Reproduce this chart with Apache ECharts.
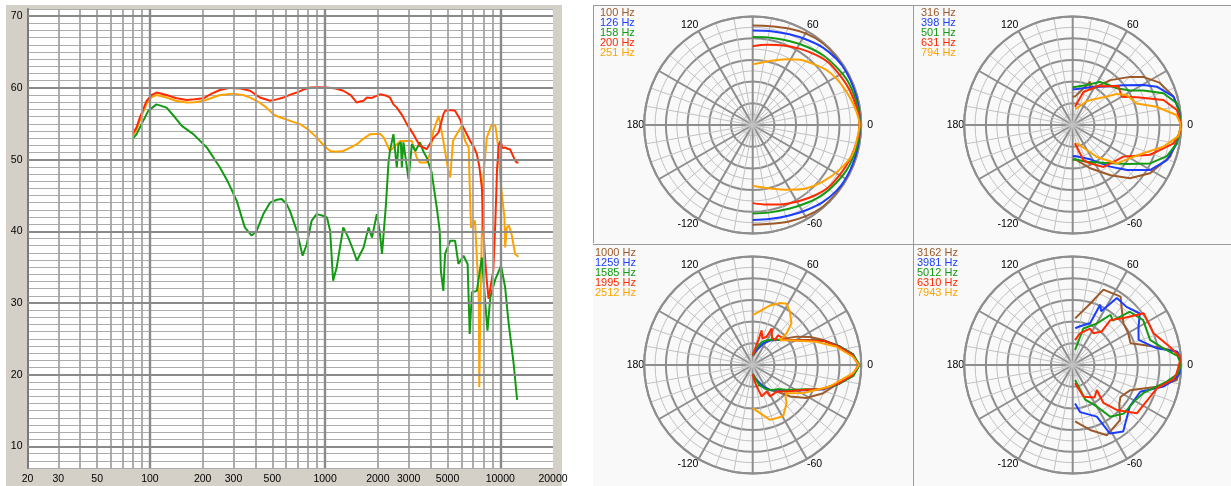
<!DOCTYPE html>
<html><head><meta charset="utf-8">
<script src="https://cdn.jsdelivr.net/npm/echarts@6/dist/echarts.min.js"></script>
<style>html,body{margin:0;padding:0;background:#fff}#c{width:1231px;height:486px}</style>
</head><body><div id="c"></div>
<script>
// ---------- Left chart: frequency response ----------
const freqTickLabels = [20,30,50,100,200,300,500,1000,2000,3000,5000,10000,20000];
const freqGridMinor = [30,40,50,60,70,80,90,200,300,400,500,600,700,800,900,2000,3000,4000,5000,6000,7000,8000,9000];
const freqGridMajor = [100,1000,10000];
const dbMajor = [10,20,30,40,50,60,70];

const redCurve = [[79.6,53.55],[83.9,54.5],[87.7,55.9],[95.7,58.2],[102,59.0],[109,59.35],[124.5,59.0],[140,58.6],[162,58.3],[180,58.4],[202,58.55],[225,59.2],[251,59.7],[286,60.0],[330,59.9],[373,59.6],[425,58.65],[485,58.2],[530,58.4],[578,58.65],[640,59.1],[689,59.35],[760,59.8],[822,60.05],[920,60.1],[1024,60.05],[1150,59.9],[1270,59.6],[1400,59.0],[1519,57.95],[1580,58.1],[1658,58.2],[1733,58.65],[1850,58.6],[2058,59.1],[2245,58.9],[2345,58.65],[2455,57.7],[2566,57.25],[2750,56.2],[2930,54.95],[3190,53.55],[3480,51.9],[3800,51.45],[3880,51.2],[4150,53.0],[4450,53.8],[4730,56.3],[4840,56.8],[5180,56.9],[5520,56.8],[5900,55.6],[6020,54.95],[6440,53.55],[6730,52.6],[7050,51.8],[7350,50.75],[7600,49.0],[7850,46.1],[8000,40.5],[8200,36.0],[8380,33.1],[8570,30.6],[8770,32.0],[9120,34.5],[9380,41.5],[9580,48.5],[9800,52.0],[10000,52.6],[10330,51.6],[10660,51.7],[11000,51.5],[11360,51.45],[11930,50.3],[12380,49.6],[12700,49.6]];
const orangeCurve = [[79.6,53.3],[83.9,54.2],[87.7,55.5],[95.7,57.8],[102,58.7],[109,59.0],[124.5,58.65],[140,58.2],[162,57.95],[180,58.0],[202,58.2],[225,58.6],[251,59.0],[299,59.2],[340,59.0],[373,58.65],[420,58.0],[463,57.25],[508,56.3],[550,55.9],[603,55.6],[650,55.3],[720,54.95],[800,54.2],[894,53.1],[980,52.0],[1068,51.2],[1150,51.1],[1270,51.2],[1400,51.7],[1519,52.15],[1650,52.9],[1810,53.55],[2058,53.6],[2160,53.1],[2345,51.2],[2683,52.6],[3130,52.6],[3330,50.3],[3480,49.6],[3800,49.6],[3970,50.75],[4150,54.0],[4450,56.1],[4730,52.6],[5060,48.4],[5180,47.5],[5370,52.6],[5640,53.55],[6020,54.7],[6300,52.6],[6600,51.7],[6730,44.25],[6810,40.5],[7170,41.5],[7400,35.0],[7540,30.3],[7590,18.25],[7700,30.0],[7850,40.0],[8000,47.5],[8380,53.1],[8960,54.95],[9380,54.7],[9740,51.7],[10120,46.1],[10560,41.95],[10660,37.75],[10900,40.55],[11200,40.8],[11600,39.6],[12170,36.8],[12700,36.45]];
const greenCurve = [[79.6,52.85],[83.9,53.55],[89.6,54.95],[97.8,56.8],[109,57.7],[124.5,57.25],[140,55.8],[152,54.7],[177,53.55],[211,51.7],[251,48.9],[280,46.8],[313,44.25],[348,40.55],[381,39.4],[407,40.1],[444,42.4],[485,44.0],[530,44.4],[565,44.5],[603,43.8],[630,42.85],[689,40.1],[744,36.6],[786,38.2],[837,41.45],[894,42.4],[960,42.2],[1024,41.95],[1068,40.1],[1111,33.1],[1165,35.0],[1270,40.55],[1355,39.15],[1440,37.5],[1519,35.9],[1658,37.75],[1770,40.55],[1852,39.15],[1973,42.4],[2050,40.0],[2113,36.85],[2226,43.8],[2300,49.5],[2345,51.2],[2455,53.55],[2566,48.9],[2624,52.15],[2707,52.4],[2742,48.9],[2800,52.4],[2993,47.3],[3130,52.15],[3280,51.2],[3480,52.4],[3630,51.2],[3800,50.3],[4060,48.2],[4340,43.3],[4510,40.1],[4580,34.5],[4730,31.7],[4840,36.85],[5180,38.7],[5520,38.7],[5770,35.45],[6170,36.6],[6510,35.45],[6690,25.7],[6890,31.5],[7350,31.7],[7850,36.35],[8080,32.2],[8450,26.15],[8770,30.8],[9380,33.35],[10100,35.2],[10660,32.2],[11120,27.55],[11930,21.5],[12380,17.35],[12480,16.5]];

// ---------- Right side: polar plots ----------
const polarFreqs = [
  ['100','126','158','200','251'],
  ['316','398','501','631','794'],
  ['1000','1259','1585','1995','2512'],
  ['3162','3981','5012','6310','7943']
];
const polarColors = ['#9c5a2a','#1a3dff','#139a13','#ff2a00','#ffa200'];
// each curve: [angleDeg, radius(0..10)]
const p1_100 = [[90,9.17],[80,9.25],[69,9.51],[60,9.75],[50,9.93],[40,9.96],[30,9.96],[20,9.94],[10,9.92],[0,9.9],[-10,9.92],[-20,9.95],[-30,9.96],[-40,9.96],[-50,9.92],[-60,9.72],[-70,9.48],[-80,9.25],[-90,9.2]];
const p1_126 = [[90,8.72],[80,8.8],[68,9.02],[58,9.29],[48,9.63],[38,9.84],[30,9.92],[19,9.92],[10,9.9],[0,9.88],[-10,9.9],[-20,9.9],[-30,9.9],[-38,9.82],[-48,9.6],[-58,9.27],[-68,9.0],[-80,8.8],[-90,8.76]];
const p1_158 = [[90,8.1],[80,8.2],[66,8.45],[55,8.78],[45,9.13],[35,9.38],[26,9.63],[18,9.73],[10,9.82],[0,9.88],[-10,9.82],[-18,9.72],[-26,9.6],[-35,9.35],[-45,9.1],[-55,8.75],[-66,8.42],[-80,8.2],[-90,8.15]];
const p1_200 = [[90,7.25],[80,7.5],[69,7.86],[58,8.27],[48,8.7],[39,9.07],[28,9.29],[20,9.49],[10,9.69],[0,9.85],[-10,9.69],[-20,9.48],[-28,9.28],[-39,9.05],[-48,8.68],[-58,8.24],[-69,7.82],[-80,7.45],[-90,7.2]];
const p1_251 = [[90,5.6],[75,6.11],[63,6.81],[54,7.43],[45,7.94],[37,8.46],[29,8.82],[20,9.15],[10,9.54],[3,9.8],[0,9.85],[-5,9.75],[-16,9.59],[-27,9.01],[-39,8.31],[-50,7.64],[-60,6.88],[-75,6.05],[-90,5.6]];

const p2_316 = [[90,2.6],[85,2.65],[68,4.3],[64,3.6],[50,5.4],[40,6.9],[34,7.9],[26,8.9],[16,9.65],[5,10.0],[0,10.0],[-4,9.93],[-18,9.45],[-32,8.4],[-43,7.2],[-53,5.8],[-68,4.3],[-85,3.2],[-90,3.2]];
const p2_398 = [[90,3.3],[86,3.3],[65,3.83],[46,4.98],[38,5.96],[29.5,7.5],[24.5,8.52],[15.7,9.65],[6.2,10.0],[0,10.0],[-10,9.75],[-20.4,9.26],[-30.2,8.25],[-39.8,6.49],[-48,5.16],[-63,3.55],[-86,2.87],[-90,2.87]];
const p2_501 = [[90,3.5],[86.5,3.5],[70.7,3.9],[57.8,4.7],[50,4.9],[39.8,5.29],[31,6.17],[26,7.25],[19.3,8.86],[11.8,9.8],[2.6,10.0],[0,10.0],[-10,9.75],[-18.3,9.14],[-26.4,7.97],[-35.8,6.15],[-51,4.48],[-70,3.6],[-86,3.17],[-90,3.17]];
const p2_631 = [[83,1.7],[72,3.2],[58,4.2],[40.5,5.54],[30,5.22],[23.4,6.43],[15.4,8.68],[8.2,9.7],[0,10.0],[-4,9.9],[-10.3,9.45],[-21,7.65],[-32,5.5],[-38.5,5.2],[-53.6,4.8],[-65.7,3.88],[-73,3.4],[-83,1.7]];
const p2_794 = [[80,1.5],[60,2.5],[55,2.8],[40,4.1],[35,5.0],[29,5.7],[18.7,6.2],[12.3,7.9],[5.5,9.6],[0,10.0],[-6,9.8],[-13.4,8.6],[-21.8,7.0],[-32.5,5.9],[-41,5.4],[-52.8,3.7],[-77.7,1.7]];

const p3_1000 = [[90,0.8],[75,1.4],[64,2.2],[55,2.8],[46,3.2],[33,4.8],[26,5.9],[19.5,6.9],[12,8.2],[6,9.3],[0,9.8],[-6,9.3],[-12,8.1],[-21.8,7.0],[-31.7,5.8],[-40,4.5],[-48,3.3],[-57,2.7],[-66,2.1],[-76,1.4],[-90,0.8]];
const p3_1259 = [[90,0.9],[75,1.45],[64,2.2],[55,2.75],[46,3.2],[35,4.0],[25,5.4],[19,6.9],[12,8.2],[6,9.3],[0,9.8],[-6,9.3],[-12,8.2],[-19,6.9],[-25,5.5],[-35,4.1],[-46,3.3],[-55,2.8],[-64,2.2],[-75,1.45],[-90,0.9]];
const p3_1585 = [[90,0.9],[78,1.6],[68,2.3],[60,2.6],[52,3.0],[45,3.3],[35,4.0],[25,5.4],[19,6.9],[12,8.2],[6,9.3],[0,9.85],[-6,9.35],[-12,8.2],[-19,6.8],[-25,5.3],[-35,4.0],[-44,3.2],[-53,2.9],[-62,2.5],[-72,1.9],[-90,0.9]];
const p3_1995 = [[90,0.9],[80,1.8],[77,2.35],[75.6,3.3],[70,2.6],[63.7,2.9],[62.6,3.8],[55,3.1],[48,3.07],[49.5,3.6],[36,3.9],[25,5.4],[19,6.9],[12,8.1],[6,9.2],[0,9.75],[-6,9.2],[-12,8.1],[-19,6.8],[-25,5.4],[-38,3.96],[-48,3.3],[-61,3.3],[-62,2.76],[-74,3.0],[-77,2.35],[-84,1.5],[-90,0.9]];
const p3_2512 = [[90,4.6],[74,5.7],[66,6.25],[61,6.45],[55,5.97],[47,5.24],[43,4.26],[42.4,3.4],[33.8,4.12],[20,6.24],[12.3,7.89],[4.7,9.27],[0,9.8],[-4.7,9.27],[-15.6,7.37],[-29,5.33],[-39.8,4.06],[-44,4.2],[-48.4,4.7],[-59.3,5.5],[-72.5,5.3],[-90,3.98]];

const p4_3162 = [[87,4.3],[74,5.9],[67.8,7.5],[55,7.7],[50,7.0],[39.4,6.05],[30,5.9],[20.7,5.7],[15.8,6.8],[10.4,8.5],[7.3,9.7],[4,10.0],[-2,9.9],[-8.2,9.7],[-14.5,8.0],[-23.6,5.8],[-33.8,5.3],[-40,5.6],[-49.3,6.7],[-64,7.2],[-75,6.2],[-87.6,5.2]];
const p4_3981 = [[86,3.4],[80,3.6],[67.4,4.2],[65.5,6.1],[62,5.6],[56.6,7.4],[47.2,7.3],[37.5,7.8],[30,7.0],[20.8,6.5],[11.2,7.9],[7.3,9.7],[2,10.0],[-4.4,9.9],[-8,9.5],[-13.4,8.6],[-21.6,6.7],[-36,6.5],[-52.8,7.7],[-61.4,7.2],[-65,5.25],[-81,4.4],[-86.5,3.55]];
const p4_5012 = [[81,1.4],[73.8,3.5],[60,4.4],[53,5.8],[48,5.5],[43,7.2],[32.5,7.7],[18,7.5],[10.4,8.5],[5,9.7],[0,10.0],[-5,9.7],[-10,8.8],[-21.8,7.0],[-30,6.6],[-43.6,6.5],[-54,5.9],[-60,4.4],[-70,3.4],[-81,1.4]];
const p4_6310 = [[84.7,2.3],[77,3.0],[64.7,3.7],[57,3.5],[49,4.1],[50,5.4],[42.6,6.4],[36,8.1],[21.4,8.0],[10.7,9.1],[4,10.0],[-2,9.7],[-4.6,9.6],[-8,9.4],[-15.5,8.05],[-37,7.4],[-45.6,5.8],[-51,4.5],[-46,3.2],[-56,3.6],[-71,3.1],[-83,1.7]];
const p4_7943 = [];

const polarCurves = [
  [p1_100,p1_126,p1_158,p1_200,p1_251],
  [p2_316,p2_398,p2_501,p2_631,p2_794],
  [p3_1000,p3_1259,p3_1585,p3_1995,p3_2512],
  [p4_3162,p4_3981,p4_5012,p4_6310,p4_7943]
];

// ---------- layout ----------
const polarCenters = [[752.7,125],[1072.7,125],[752.7,365],[1072.7,365]];
const legendOrigins = [[600,13],[921,13],[595,253],[917,253]];
const FONT = '"Liberation Sans", Arial, sans-serif';

const chart = echarts.init(document.getElementById('c'), null, {renderer:'canvas'});

const gridLineData = [];
freqGridMinor.forEach(v => gridLineData.push({xAxis:v, lineStyle:{color:'#a4a4a4', width:1.8, type:'solid'}}));
freqGridMajor.forEach(v => gridLineData.push({xAxis:v, lineStyle:{color:'#8a8a8a', width:2.4, type:'solid'}}));
dbMajor.forEach(v => gridLineData.push({yAxis:v, lineStyle:{color:'#8a8a8a', width:2.2, type:'solid'}}));

const series = [
  {type:'line', xAxisIndex:0, yAxisIndex:0, data:[], silent:true, z:1,
   markLine:{silent:true, symbol:['none','none'], animation:false, label:{show:false},
     lineStyle:{type:'solid'}, emphasis:{disabled:true}, data:gridLineData}},
  {type:'line', name:'orange', data:orangeCurve, showSymbol:false, symbol:'none', z:3, animation:false,
   lineStyle:{color:'#ffa200', width:2}},
  {type:'line', name:'green', data:greenCurve, showSymbol:false, symbol:'none', z:3, animation:false,
   lineStyle:{color:'#139a13', width:2}},
  {type:'line', name:'red', data:redCurve, showSymbol:false, symbol:'none', z:3, animation:false,
   lineStyle:{color:'#ff2a00', width:2}}
];

polarCurves.forEach((curves, pi) => {
  curves.forEach((pts, si) => {
    series.push({
      type:'line', coordinateSystem:'polar', polarIndex:pi,
      data: pts.map(p => [p[1], p[0]]),
      showSymbol:false, symbol:'none', animation:false, z:3,
      smooth: pi === 0 ? 0.3 : false,
      lineStyle:{color:polarColors[si], width:2}
    });
  });
});

const graphics = [
  {type:'rect', z:-10, shape:{x:6,y:5,width:556,height:481}, style:{fill:'#d4d0c8'}},
  {type:'rect', z:-10, shape:{x:593,y:5,width:638,height:481}, style:{fill:'#f9f9f9'}},
  {type:'line', z:-5, shape:{x1:593.5,y1:5,x2:593.5,y2:243}, style:{stroke:'#9a9a9a', lineWidth:1}},
  {type:'line', z:-5, shape:{x1:593,y1:5.5,x2:1231,y2:5.5}, style:{stroke:'#9a9a9a', lineWidth:1}},
  {type:'line', z:-5, shape:{x1:593,y1:244.5,x2:1231,y2:244.5}, style:{stroke:'#9a9a9a', lineWidth:1}},
  {type:'line', z:-5, shape:{x1:913.5,y1:5,x2:913.5,y2:486}, style:{stroke:'#9a9a9a', lineWidth:1}}
];
polarFreqs.forEach((freqs, pi) => {
  freqs.forEach((f, si) => {
    graphics.push({type:'text', z:10, x:legendOrigins[pi][0], y:legendOrigins[pi][1] + si*10,
      style:{text: f + ' Hz', fill:polarColors[si], font:'11px ' + FONT, textVerticalAlign:'middle'}});
  });
});

const polar = polarCenters.map(c => ({center:c, radius:108.5}));
const angleAxis = polarCenters.map((c, i) => ({
  polarIndex:i, type:'value', min:-180, max:180, interval:30, startAngle:180, clockwise:false,
  axisLine:{show:true, lineStyle:{color:'#8e8e8e', width:2}},
  axisTick:{show:false},
  axisLabel:{show:true, color:'#000', fontSize:10.5, fontFamily:FONT, margin:0,
    rich:{z:{padding:[0,0,0,6], color:'#000', fontSize:10.5, fontFamily:FONT}},
    formatter: v => (v === 0 ? '{z|0}' : (v % 60 === 0 ? (v === -180 ? '180' : String(v)) : ''))},
  splitLine:{show:true, lineStyle:{color:'#8e8e8e', width:2}},
  minorTick:{show:false, splitNumber:3},
  minorSplitLine:{show:true, lineStyle:{color:'#c2c2c2', width:1}}
}));
const radiusAxis = polarCenters.map((c, i) => ({
  polarIndex:i, type:'value', min:0, max:10, interval:2,
  axisLine:{show:false}, axisTick:{show:false}, axisLabel:{show:false},
  splitLine:{show:true, lineStyle:{color:'#8e8e8e', width:2}},
  minorTick:{show:false, splitNumber:2},
  minorSplitLine:{show:true, lineStyle:{color:'#c2c2c2', width:1}}
}));

chart.setOption({
  animation:false,
  backgroundColor:'#ffffff',
  graphic:graphics,
  grid:{left:27.5, top:9, width:525.5, height:459, show:true, backgroundColor:'#ffffff', borderWidth:0},
  xAxis:{type:'log', logBase:10, min:20, max:20000,
    axisLine:{show:false}, axisTick:{show:false}, splitLine:{show:false},
    axisLabel:{show:true, customValues:freqTickLabels, color:'#000', fontSize:10.5, fontFamily:FONT, margin:6,
      formatter: v => String(Math.round(v))}},
  yAxis:{type:'value', min:7, max:71, interval:1,
    axisLine:{show:true, lineStyle:{color:'#7a7a7a', width:2}}, axisTick:{show:false},
    splitLine:{show:true, lineStyle:{color:'#acacac', width:1.2}},
    axisLabel:{color:'#000', fontSize:10.5, fontFamily:FONT, margin:5,
      formatter: v => (v % 10 === 0 ? String(v) : '')}},
  polar:polar,
  angleAxis:angleAxis,
  radiusAxis:radiusAxis,
  series:series
});
</script></body></html>
